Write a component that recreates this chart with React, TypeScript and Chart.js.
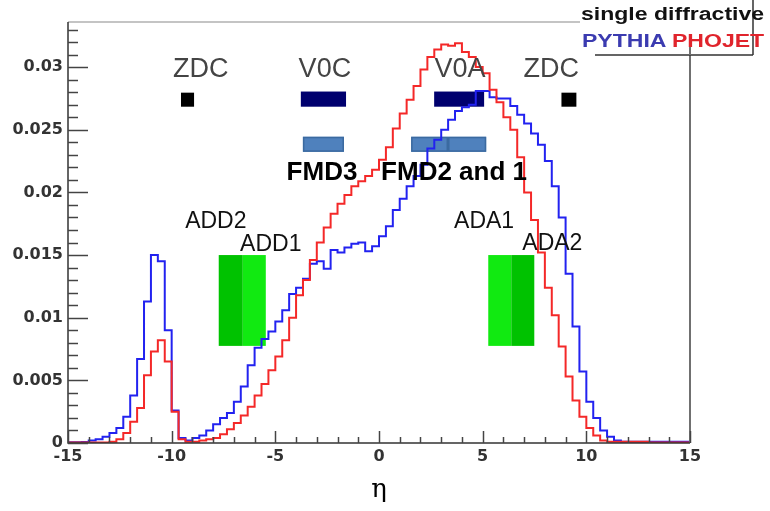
import React, { useEffect, useRef } from 'react';
import { Chart, registerables } from 'chart.js';

Chart.register(...registerables);

// ---- histogram definition ----
const ETA_MIN = -15;
const ETA_MAX = 15;
const BIN_WIDTH = 1 / 3; // 90 bins

// PYTHIA single diffractive dN/deta (blue)
const pythia = [
  0.00005, 0.00005, 0.00005, 0.00008, 0.0002, 0.0003, 0.0005, 0.0008, 0.0012, 0.0021,
  0.0038, 0.0067, 0.0113, 0.0150, 0.0145, 0.0090, 0.0026, 0.0004, 0.0002, 0.0004,
  0.0006, 0.0010, 0.0015, 0.0020, 0.0024, 0.0033, 0.0045, 0.0062, 0.0076, 0.0083,
  0.0089, 0.0097, 0.0106, 0.0119, 0.0124, 0.0131, 0.0143, 0.0145, 0.0139, 0.0154,
  0.0152, 0.0156, 0.0159, 0.0160, 0.0153, 0.0157, 0.0165, 0.0173, 0.0186, 0.0195,
  0.0205, 0.0213, 0.0222, 0.0235, 0.0242, 0.0250, 0.0258, 0.0265, 0.0268, 0.0270,
  0.0281, 0.0281, 0.0276, 0.0275, 0.0275, 0.0269, 0.0262, 0.0255, 0.0247, 0.0238,
  0.0225, 0.0205, 0.0180, 0.0135, 0.0093, 0.0057, 0.0033, 0.0020, 0.0010, 0.0005,
  0.0002, 0.0001, 0.0001, 0.0001, 0.0001, 0.0001, 0.0001, 0.0001, 0.0001, 0.0001,
];

// PHOJET single diffractive dN/deta (red)
const phojet = [
  0.00003, 0.00003, 0.00003, 0.00003, 0.00003, 0.00003, 0.00003, 0.0001, 0.0003, 0.0008,
  0.0017, 0.0028, 0.0054, 0.0073, 0.0082, 0.0065, 0.0025, 0.0003, 0.0001, 0.0001,
  0.0002, 0.0003, 0.0004, 0.0007, 0.0011, 0.0016, 0.0022, 0.0029, 0.0038, 0.0047,
  0.0058, 0.0069, 0.0082, 0.0100, 0.0118, 0.0130, 0.0146, 0.0160, 0.0172, 0.0183,
  0.0191, 0.0198, 0.0205, 0.0209, 0.0213, 0.0218, 0.0226, 0.0236, 0.0251, 0.0263,
  0.0274, 0.0285, 0.0298, 0.0308, 0.0314, 0.0318, 0.0317, 0.0319, 0.0312, 0.0308,
  0.0300, 0.0295, 0.0282, 0.0272, 0.0260, 0.0250, 0.0228, 0.0200, 0.0178, 0.0152,
  0.0124, 0.0102, 0.0077, 0.0053, 0.0034, 0.0021, 0.0012, 0.0006, 0.0002, 0.0001,
  0.0001, 0.0001, 0.0001, 0.0001, 0.0001, 0.00003, 0.00003, 0.00003, 0.00003, 0.00003,
];

// ---- axes ----
const Y_MAX = 0.0336;
const yTicks = [0, 0.005, 0.01, 0.015, 0.02, 0.025, 0.03];
const yTickLabels = ['0', '0.005', '0.01', '0.015', '0.02', '0.025', '0.03'];
const xTicks = [-15, -10, -5, 0, 5, 10, 15];
const xTickLabels = ['-15', '-10', '-5', '0', '5', '10', '15'];

// ---- detector acceptances (eta ranges) ----
const detectorNames = ['ZDC-C', 'V0C', 'FMD3', 'ADD2', 'ADD1', 'FMD2', 'FMD1', 'V0A', 'ADA1', 'ADA2', 'ZDC-A'];
const detectorEtaLow = [-9.55, -3.77, -3.67, -7.73, -6.57, 1.55, 3.33, 2.66, 5.27, 6.38, 8.8];
const detectorEtaHigh = [-8.92, -1.59, -1.69, -6.57, -5.46, 3.33, 5.17, 5.07, 6.38, 7.49, 9.52];
const detectorKind = ['zdc', 'v0', 'fmd', 'adDark', 'adLight', 'fmd', 'fmd', 'v0', 'adLight', 'adDark', 'zdc'];

// ---- styles (placement in data units, colours) ----
const kindStyle: Record<string, { y0: number; y1: number; fill: string; stroke?: string }> = {
  zdc: { y0: 0.02684, y1: 0.02796, fill: '#000000' },
  v0: { y0: 0.02684, y1: 0.02805, fill: '#00006e' },
  fmd: { y0: 0.02324, y1: 0.02444, fill: '#4f81bd', stroke: '#3b6aa0' },
  adDark: { y0: 0.00775, y1: 0.0150, fill: '#00c200' },
  adLight: { y0: 0.00775, y1: 0.0150, fill: '#11ea11' },
};

const annotationTexts = ['ZDC', 'V0C', 'V0A', 'ZDC', 'FMD3', 'FMD2 and 1', 'ADD2', 'ADD1', 'ADA1', 'ADA2'];
const annotationStyle = [
  { eta: -8.6, y: 0.0298, font: '27px "Liberation Sans", Arial, sans-serif', color: '#444' },
  { eta: -2.61, y: 0.0298, font: '27px "Liberation Sans", Arial, sans-serif', color: '#444' },
  { eta: 3.91, y: 0.0298, font: '27px "Liberation Sans", Arial, sans-serif', color: '#444' },
  { eta: 8.31, y: 0.0298, font: '27px "Liberation Sans", Arial, sans-serif', color: '#444' },
  { eta: -2.75, y: 0.02157, font: 'bold 26px "Liberation Sans", Arial, sans-serif', color: '#000' },
  { eta: 3.62, y: 0.02157, font: 'bold 26px "Liberation Sans", Arial, sans-serif', color: '#000' },
  { eta: -7.87, y: 0.01765, font: '23px "Liberation Sans", Arial, sans-serif', color: '#111' },
  { eta: -5.22, y: 0.01582, font: '23px "Liberation Sans", Arial, sans-serif', color: '#111' },
  { eta: 5.07, y: 0.01765, font: '23px "Liberation Sans", Arial, sans-serif', color: '#111' },
  { eta: 8.36, y: 0.0159, font: '23px "Liberation Sans", Arial, sans-serif', color: '#111' },
];

const legendTitle = 'single diffractive';
const seriesNames = ['PYTHIA', 'PHOJET'];
const seriesColors = ['#2222f0', '#f42828'];
const legendTextColors = ['#3b3bb0', '#e0242c'];

function histPoints(values: number[]) {
  const pts = values.map((v, i) => ({ x: ETA_MIN + i * BIN_WIDTH, y: v }));
  pts.push({ x: ETA_MAX, y: values[values.length - 1] });
  return pts;
}

function drawText(ctx: CanvasRenderingContext2D, text: string, x: number, y: number, font: string, color: string, align: CanvasTextAlign = 'center', sx = 1) {
  ctx.save();
  ctx.font = font;
  ctx.fillStyle = color;
  ctx.textAlign = align;
  ctx.textBaseline = 'middle';
  ctx.translate(x, y);
  ctx.scale(sx, 1);
  ctx.fillText(text, 0, 0);
  ctx.restore();
}

const overlayPlugin = {
  id: 'rootOverlay',
  beforeDatasetsDraw(chart: any) {
    const { ctx, scales } = chart;
    const xs = scales.x;
    const ys = scales.y;
    detectorNames.forEach((_, i) => {
      const st = kindStyle[detectorKind[i]];
      const x0 = xs.getPixelForValue(detectorEtaLow[i]);
      const x1 = xs.getPixelForValue(detectorEtaHigh[i]);
      const y0 = ys.getPixelForValue(st.y1);
      const y1 = ys.getPixelForValue(st.y0);
      ctx.save();
      ctx.fillStyle = st.fill;
      ctx.fillRect(x0, y0, x1 - x0, y1 - y0);
      if (st.stroke) {
        ctx.strokeStyle = st.stroke;
        ctx.lineWidth = 1.5;
        ctx.strokeRect(x0 + 0.75, y0 + 0.75, x1 - x0 - 1.5, y1 - y0 - 1.5);
      }
      ctx.restore();
    });
  },
  afterDatasetsDraw(chart: any) {
    const { ctx, chartArea, scales } = chart;
    const xs = scales.x;
    const ys = scales.y;
    const { left, right, top, bottom } = chartArea;

    ctx.save();
    // frame
    ctx.lineWidth = 2;
    ctx.strokeStyle = '#c4c4c4';
    ctx.beginPath();
    ctx.moveTo(left, top);
    ctx.lineTo(right, top);
    ctx.stroke();
    ctx.strokeStyle = '#707070';
    ctx.beginPath();
    ctx.moveTo(right, top);
    ctx.lineTo(right, bottom);
    ctx.stroke();
    ctx.lineWidth = 1.5;
    ctx.strokeStyle = '#333';
    ctx.beginPath();
    ctx.moveTo(left, top);
    ctx.lineTo(left, bottom);
    ctx.lineTo(right, bottom);
    ctx.stroke();

    // y ticks (inward)
    ctx.lineWidth = 1.5;
    ctx.strokeStyle = '#444';
    for (let k = 0; k <= 33; k++) {
      const v = k * 0.001;
      const py = Math.round(ys.getPixelForValue(v)) + 0.5;
      const len = k % 5 === 0 ? 20 : 10;
      ctx.beginPath();
      ctx.moveTo(left, py);
      ctx.lineTo(left + len, py);
      ctx.stroke();
    }
    // x ticks (inward)
    for (let e = ETA_MIN; e <= ETA_MAX; e++) {
      const px = Math.round(xs.getPixelForValue(e)) + 0.5;
      const len = e % 5 === 0 ? 12 : 6;
      ctx.beginPath();
      ctx.moveTo(px, bottom);
      ctx.lineTo(px, bottom - len);
      ctx.stroke();
    }
    ctx.restore();

    // annotations
    annotationTexts.forEach((t, i) => {
      const a = annotationStyle[i];
      drawText(ctx, t, xs.getPixelForValue(a.eta), ys.getPixelForValue(a.y), a.font, a.color);
    });

    // legend box (ROOT TPaveText style)
    ctx.save();
    ctx.fillStyle = '#ffffff';
    ctx.fillRect(580, 0, 173, 55);
    ctx.strokeStyle = '#333';
    ctx.lineWidth = 1.5;
    ctx.beginPath();
    ctx.moveTo(595, 55);
    ctx.lineTo(753, 55);
    ctx.moveTo(753, 0);
    ctx.lineTo(753, 55);
    ctx.stroke();
    ctx.strokeStyle = '#707070';
    ctx.lineWidth = 2;
    ctx.beginPath();
    ctx.moveTo(right, 55);
    ctx.lineTo(right, top + 20);
    ctx.stroke();
    ctx.restore();
    const lf = 'bold 18px "Liberation Sans", Arial, sans-serif';
    drawText(ctx, legendTitle, 581, 15, lf, '#111', 'left', 1.28);
    drawText(ctx, seriesNames[0], 582, 42, lf, legendTextColors[0], 'left', 1.28);
    drawText(ctx, seriesNames[1], 672, 42, lf, legendTextColors[1], 'left', 1.28);
  },
};

export default function App() {
  const canvasRef = useRef<HTMLCanvasElement | null>(null);

  useEffect(() => {
    if (!canvasRef.current) return;
    const tickFont = { family: '"DejaVu Sans", sans-serif', size: 16, weight: 'bold' as const };
    const chart = new Chart(canvasRef.current, {
      type: 'line',
      data: {
        datasets: [
          {
            label: seriesNames[1],
            data: histPoints(phojet),
            borderColor: seriesColors[1],
            borderWidth: 2,
            stepped: 'after',
            pointRadius: 0,
            fill: false,
          },
          {
            label: seriesNames[0],
            data: histPoints(pythia),
            borderColor: seriesColors[0],
            borderWidth: 2,
            stepped: 'after',
            pointRadius: 0,
            fill: false,
          },
        ],
      },
      options: {
        responsive: false,
        animation: false,
        devicePixelRatio: 1,
        layout: { padding: { left: 0, right: 80, top: 22, bottom: 0 } },
        plugins: { legend: { display: false }, tooltip: { enabled: false } },
        scales: {
          x: {
            type: 'linear',
            min: ETA_MIN,
            max: ETA_MAX,
            grid: { display: false, drawTicks: false },
            border: { display: false },
            afterBuildTicks: (s: any) => {
              s.ticks = xTicks.map((value) => ({ value }));
            },
            afterFit: (s: any) => {
              s.height = 68;
            },
            ticks: {
              autoSkip: false,
              maxRotation: 0,
              padding: 4,
              color: '#333',
              font: tickFont,
              callback: (_v: any, i: number) => xTickLabels[i],
            },
            title: {
              display: true,
              text: 'η',
              color: '#000',
              font: { family: '"DejaVu Serif", "Liberation Serif", serif', size: 26 },
              padding: { top: 0, bottom: 5 },
            },
          },
          y: {
            type: 'linear',
            min: 0,
            max: Y_MAX,
            grid: { display: false, drawTicks: false },
            border: { display: false },
            afterBuildTicks: (s: any) => {
              s.ticks = yTicks.map((value) => ({ value }));
            },
            afterFit: (s: any) => {
              s.width = 68;
            },
            ticks: {
              padding: 5,
              color: '#333',
              font: tickFont,
              callback: (_v: any, i: number) => yTickLabels[i],
            },
          },
        },
      },
      plugins: [overlayPlugin],
    });
    return () => chart.destroy();
  }, []);

  return (
    <div style={{ position: 'absolute', left: 0, top: 0, width: 770, height: 511, background: '#fff' }}>
      <canvas ref={canvasRef} width={770} height={511} style={{ display: 'block' }} />
    </div>
  );
}
